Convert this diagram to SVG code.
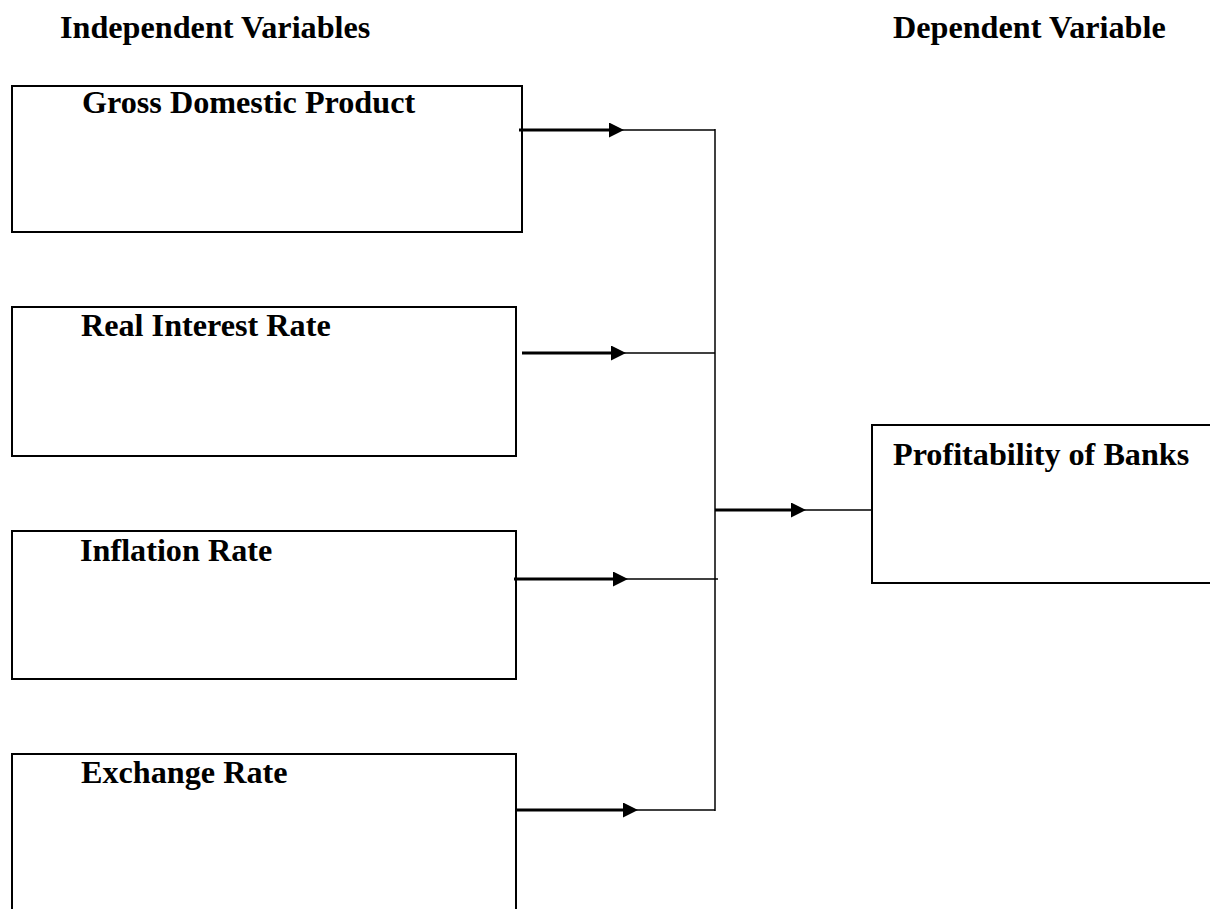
<svg xmlns="http://www.w3.org/2000/svg" width="1210" height="909" viewBox="0 0 1210 909">
<style>
.box{fill:#fff;stroke:#000;stroke-width:2}
.t{font-family:"Liberation Serif","Times New Roman",serif;font-weight:bold;font-size:32.2px;fill:#000}
.thick{stroke:#000;stroke-width:3;fill:none}
.thin{stroke:#000;stroke-width:1.5;fill:none}
</style>
<defs>
<marker id="ah" markerUnits="userSpaceOnUse" markerWidth="16" markerHeight="16" refX="0" refY="7.5" orient="auto">
<path d="M0,0 L15,7.5 L0,15 z" fill="#000"/>
</marker>
</defs>
<rect width="1210" height="909" fill="#fff"/>
<g id="headers">
<text class="t" x="60" y="38">Independent Variables</text>
<text class="t" x="893" y="38">Dependent Variable</text>
</g>
<g id="node-gdp">
<rect class="box" x="12" y="86" width="510" height="146"/>
<text class="t" x="82" y="113">Gross Domestic Product</text>
</g>
<g id="node-rir">
<rect class="box" x="12" y="307" width="504" height="149"/>
<text class="t" x="81" y="336">Real Interest Rate</text>
</g>
<g id="node-inf">
<rect class="box" x="12" y="531" width="504" height="148"/>
<text class="t" x="80" y="561">Inflation Rate</text>
</g>
<g id="node-exr">
<rect class="box" x="12" y="754" width="504" height="170"/>
<text class="t" x="81" y="783">Exchange Rate</text>
</g>
<g id="node-prof">
<rect class="box" x="872" y="425" width="350" height="158"/>
<text class="t" x="893" y="465">Profitability of Banks</text>
</g>
<g id="connectors">
<line class="thick" x1="519" y1="130" x2="609" y2="130" marker-end="url(#ah)"/>
<line class="thin" x1="622" y1="130" x2="715" y2="130"/>
<line class="thick" x1="522" y1="353" x2="611" y2="353" marker-end="url(#ah)"/>
<line class="thin" x1="624" y1="353" x2="715" y2="353"/>
<line class="thick" x1="514" y1="579" x2="613" y2="579" marker-end="url(#ah)"/>
<line class="thin" x1="626" y1="579" x2="718" y2="579"/>
<line class="thick" x1="517" y1="810" x2="623" y2="810" marker-end="url(#ah)"/>
<line class="thin" x1="636" y1="810" x2="715" y2="810"/>
<line class="thin" x1="715" y1="129" x2="715" y2="811"/>
<line class="thick" x1="715" y1="510" x2="791" y2="510" marker-end="url(#ah)"/>
<line class="thin" x1="804" y1="510" x2="872" y2="510"/>
</g>
</svg>
